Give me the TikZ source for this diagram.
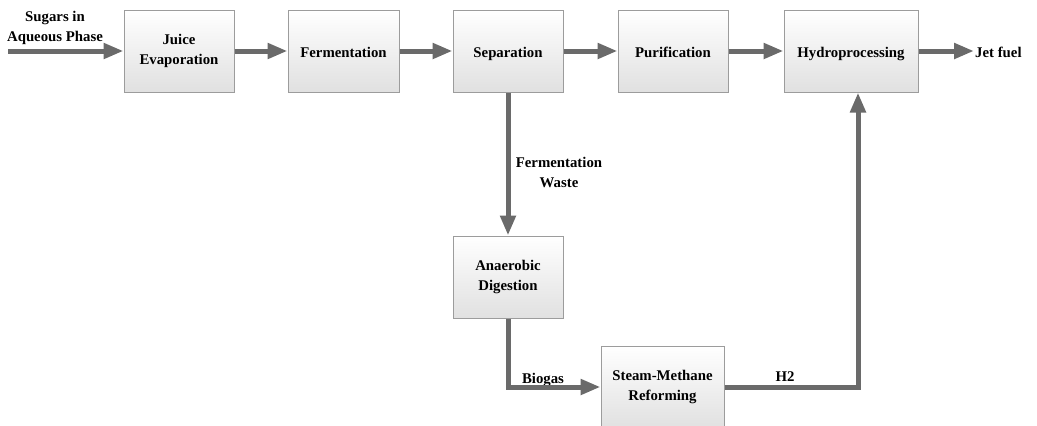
\documentclass[tikz,border=0pt]{standalone}
\usepackage{fontspec}
\setmainfont{Liberation Serif}
\usepackage{xcolor}
\usepackage{tikz}
\usetikzlibrary{arrows.meta}
\usetikzlibrary{positioning}
\definecolor{flowgray}{HTML}{6A6A6A}
\definecolor{boxedge}{HTML}{9C9C9C}
\tikzstyle{procnode}=[draw=boxedge, line width=1pt, shape=rectangle, top color=white, bottom color=black!12, minimum width=110pt, minimum height=82pt, inner sep=2pt, align=center, font=\fontsize{14.8}{20}\selectfont\bfseries]
\tikzstyle{oneline}=[text height=14pt, text depth=2pt]
\tikzstyle{labnode}=[align=center, inner sep=1pt, font=\fontsize{14.8}{20}\selectfont\bfseries]
\tikzstyle{flow}=[-{Triangle[length=20pt, width=15pt]}, line width=5pt, color=flowgray]

\begin{document}
\begin{tikzpicture}[x=1pt, y=-1pt]
\useasboundingbox (0,0) rectangle (1037,426);
\node [procnode] (juice) at (179,51) {Juice\\Evaporation};
\node [procnode, oneline, minimum width=111pt] (ferm) at (343.5,51) {Fermentation};
\node [procnode, oneline] (sep) at (508,51) {Separation};
\node [procnode, oneline] (puri) at (673,51) {Purification};
\node [procnode, oneline, minimum width=134pt] (hydro) at (851,51) {Hydroprocessing};
\node [procnode] (anaer) at (508,277) {Anaerobic\\Digestion};
\node [procnode, minimum width=123pt] (smr) at (662.5,387) {Steam-Methane\\Reforming};
\node [labnode] (sugars) at (55,28) {Sugars in\\Aqueous Phase};
\node [labnode, oneline, anchor=west] (jet) at (974,51) {Jet fuel};
\node [labnode] (waste) at (559,172) {Fermentation\\Waste};
\node [labnode] (biogas) at (543,380) {Biogas};
\node [labnode] (htwo) at (785,377) {H2};
\coordinate (src) at (8,51);

\draw[flow] (src) -- (juice);
\draw[flow] (juice) -- (ferm);
\draw[flow] (ferm) -- (sep);
\draw[flow] (sep) -- (puri);
\draw[flow] (puri) -- (hydro);
\draw[flow] (hydro) -- (jet);
\draw[flow] (sep) -- (anaer);
\draw[flow] (anaer.south) |- (smr.west);
\draw[flow] (smr.east) -| ([xshift=7pt]hydro.south);
\end{tikzpicture}
\end{document}
